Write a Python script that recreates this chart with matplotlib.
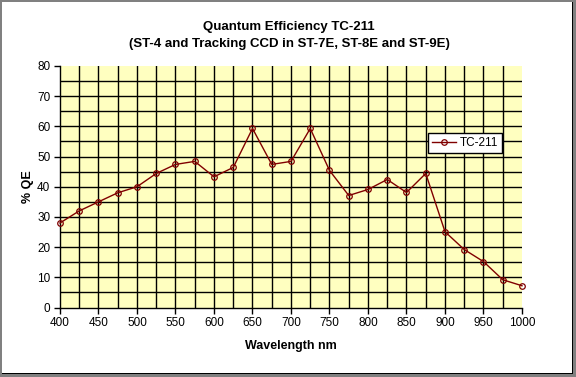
import matplotlib
matplotlib.use("Agg")
import matplotlib.pyplot as plt
from matplotlib.patches import Rectangle
from matplotlib.ticker import MultipleLocator

wavelength = [400, 425, 450, 475, 500, 525, 550, 575, 600, 625, 650, 675, 700,
              725, 750, 775, 800, 825, 850, 875, 900, 925, 950, 975, 1000]
qe = [28.0, 32.0, 35.0, 38.0, 40.0, 44.4, 47.4, 48.4, 43.3, 46.4, 59.3, 47.4, 48.4,
      59.3, 45.4, 37.1, 39.1, 42.4, 38.1, 44.4, 25.1, 19.2, 15.2, 9.2, 7.2]
series_name = "TC-211"
title = "Quantum Efficiency TC-211\n(ST-4 and Tracking CCD in ST-7E, ST-8E and ST-9E)"
xlabel = "Wavelength nm"
ylabel = "% QE"
x_grid = list(range(425, 1000, 25))
y_grid = list(range(5, 80, 5))

plt.rcParams['font.family'] = ['Liberation Sans', 'DejaVu Sans']

W, H = 576, 377
fig = plt.figure(figsize=(W / 100, H / 100), dpi=100, facecolor='white')

def px_rect(x, y, w, h, color):
    fig.patches.append(Rectangle((x / W, 1 - (y + h) / H), w / W, h / H,
                                 transform=fig.transFigure, facecolor=color,
                                 edgecolor='none', zorder=10))
gray = '#808080'
px_rect(0, 0, W, 2, gray)
px_rect(0, 0, 2, H, gray)
px_rect(W - 3, 0, 3, H, gray)
px_rect(0, H - 3, W, 3, gray)
px_rect(W - 4, 2, 1, H - 5, 'black')
px_rect(2, H - 4, W - 5, 1, 'black')

ax = fig.add_axes([60 / W, 1 - 307.5 / H, 462 / W, 241.5 / H])
ax.set_facecolor('#FFFFC0')
ax.set_xlim(400, 1000)
ax.set_ylim(0, 80)
ax.xaxis.set_major_locator(MultipleLocator(50))
ax.yaxis.set_major_locator(MultipleLocator(10))
for xv in x_grid:
    ax.axvline(xv, color='black', linewidth=1.0, zorder=1)
for yv in y_grid:
    ax.axhline(yv, color='black', linewidth=1.0, zorder=1)
for s in ['top', 'right']:
    ax.spines[s].set_visible(False)
for s in ['left', 'bottom']:
    ax.spines[s].set_linewidth(1.0)
ax.tick_params(which='major', direction='out', length=4, width=1, labelsize=8.5, pad=3)

ax.plot(wavelength, qe, color='#800000', linewidth=1.0, marker='o', markersize=4,
        markerfacecolor='none', markeredgecolor='#800000', markeredgewidth=0.9,
        label=series_name, clip_on=False, zorder=5)

fig.text(289 / W, 1 - 35.5 / H, title, ha='center', va='center', fontsize=9.5,
         fontweight='bold', linespacing=1.45)
ax.set_xlabel(xlabel, fontsize=9, fontweight='bold', labelpad=8)
ax.set_ylabel(ylabel, fontsize=9, fontweight='bold', labelpad=2)

leg = ax.legend(loc='upper left', bbox_to_anchor=((428 - 60) / 462, (307.5 - 133) / 241.5),
                fontsize=8.5, frameon=True, fancybox=False, shadow=False,
                borderpad=0.35, handlelength=2.0, handletextpad=0.3, borderaxespad=0)
leg.get_frame().set_edgecolor('black')
leg.get_frame().set_linewidth(1.0)
leg.get_frame().set_facecolor('white')
leg.get_frame().set_alpha(1)

fig.savefig('out.png', dpi=100, facecolor='white')
